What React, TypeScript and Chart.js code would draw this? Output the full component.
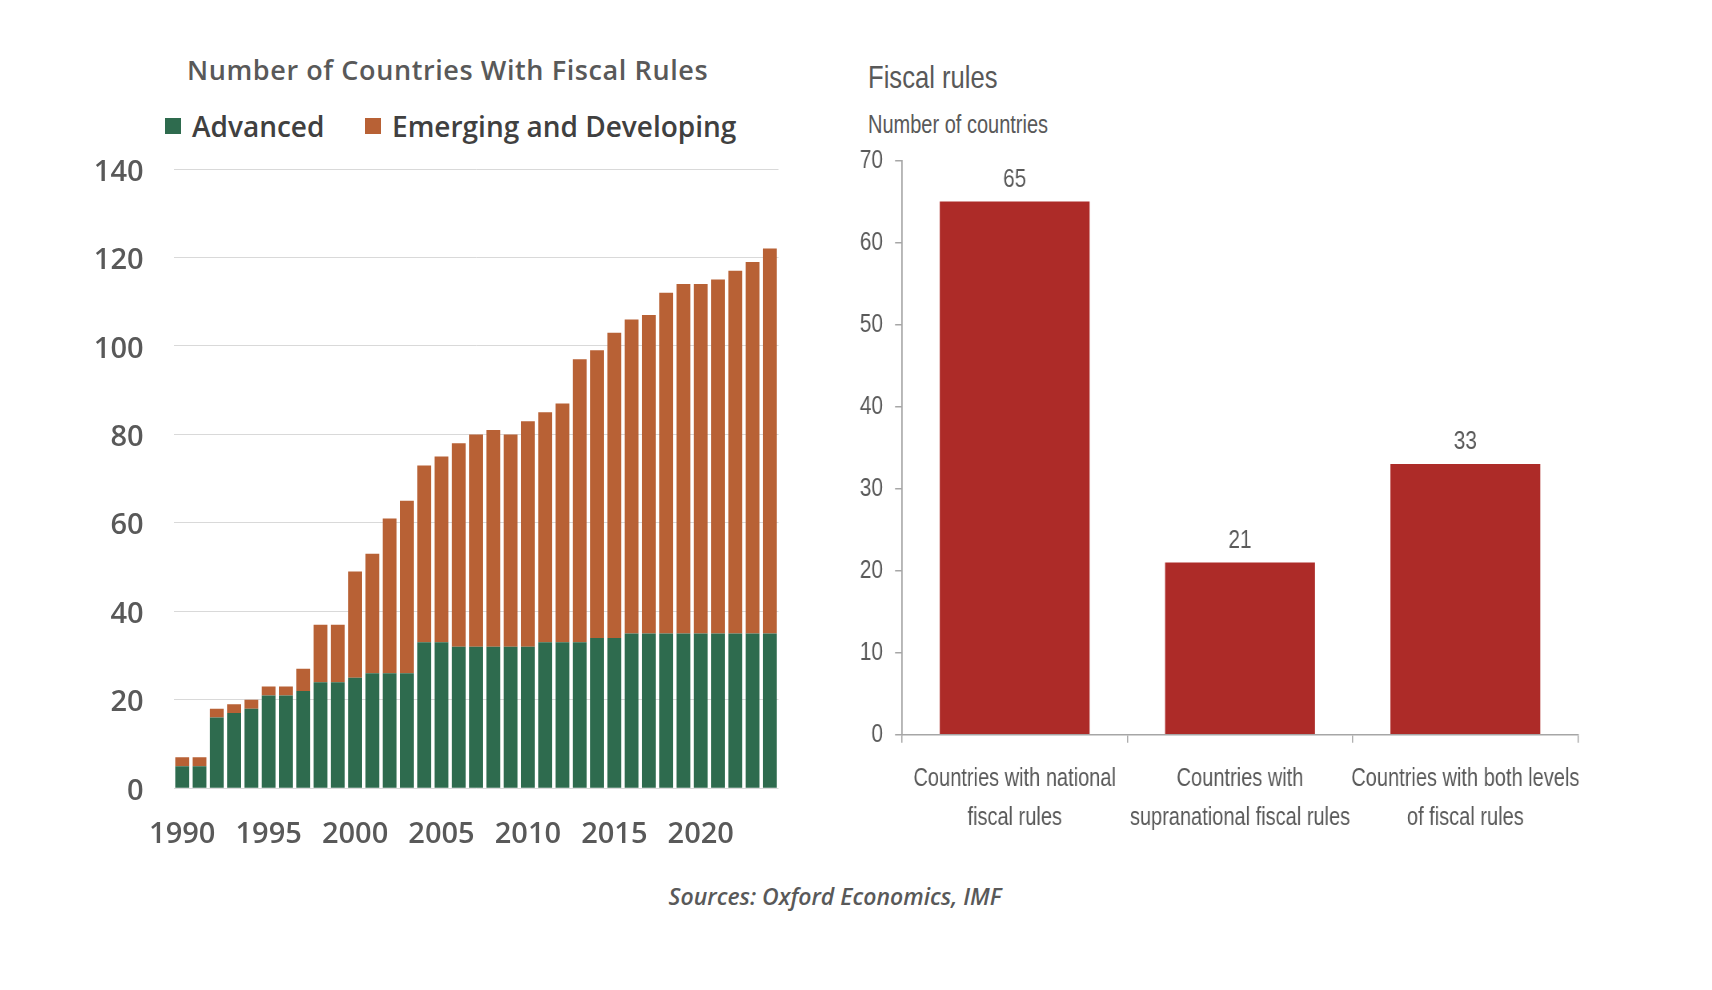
import { useEffect, useRef } from "react";
import { Chart, registerables } from "chart.js";

Chart.register(...registerables);

// ---- Number of countries with fiscal rules, by income group ----
const years = [
  "1990", "1991", "1992", "1993", "1994", "1995", "1996", "1997", "1998", "1999",
  "2000", "2001", "2002", "2003", "2004", "2005", "2006", "2007", "2008", "2009",
  "2010", "2011", "2012", "2013", "2014", "2015", "2016", "2017", "2018", "2019",
  "2020", "2021", "2022", "2023", "2024",
];
const yearTicks = ["1990", "1995", "2000", "2005", "2010", "2015", "2020"];
const advanced = [
  5, 5, 16, 17, 18, 21, 21, 22, 24, 24,
  25, 26, 26, 26, 33, 33, 32, 32, 32, 32,
  32, 33, 33, 33, 34, 34, 35, 35, 35, 35,
  35, 35, 35, 35, 35,
];
const emerging = [
  2, 2, 2, 2, 2, 2, 2, 5, 13, 13,
  24, 27, 35, 39, 40, 42, 46, 48, 49, 48,
  51, 52, 54, 64, 65, 69, 71, 72, 77, 79,
  79, 80, 82, 84, 87,
];

// ---- Fiscal rules by level ----
const ruleCategories = [
  ["Countries with national", "fiscal rules"],
  ["Countries with", "supranational fiscal rules"],
  ["Countries with both levels", "of fiscal rules"],
];
const ruleCounts = [65, 21, 33];

const GREEN = "#2e6b4e";
const ORANGE = "#b86135";
const RED = "#ad2b28";
const GREY_TEXT = "#595959";
const SANS = '"Open Sans", "DejaVu Sans", sans-serif';
const ARIALISH = '"Liberation Sans", Arial, sans-serif';

// The right-hand panel uses a condensed face: its canvas is rendered wider
// and displayed at this horizontal factor, which narrows all of its text.
const SQUEEZE = 0.8;
const LEVEL_CSS_WIDTH = 721.6;
const LEVEL_PX_WIDTH = Math.round(LEVEL_CSS_WIDTH / SQUEEZE);

function GroupChart() {
  const ref = useRef<HTMLCanvasElement | null>(null);
  useEffect(() => {
    if (!ref.current) return;
    const chart = new Chart(ref.current, {
      type: "bar",
      data: {
        labels: years,
        datasets: [
          { label: "Advanced", data: advanced, backgroundColor: GREEN, borderWidth: 0 },
          { label: "Emerging and Developing", data: emerging, backgroundColor: ORANGE, borderWidth: 0 },
        ],
      },
      options: {
        responsive: false,
        animation: false,
        devicePixelRatio: 1,
        layout: { padding: { top: 19, right: 21.5, bottom: 0, left: 0 } },
        plugins: { legend: { display: false }, title: { display: false }, tooltip: { enabled: false } },
        datasets: { bar: { categoryPercentage: 1, barPercentage: 0.8 } },
        scales: {
          x: {
            stacked: true,
            grid: { display: false, drawTicks: false },
            border: { display: false },
            ticks: {
              autoSkip: false,
              maxRotation: 0,
              padding: 29,
              color: GREY_TEXT,
              font: { family: SANS, size: 29, weight: "600" },
              callback: (_v: any, i: number) => (yearTicks.includes(years[i]) ? years[i] : ""),
            },
            afterFit: (s: any) => {
              s.height = 81.7;
              s.paddingLeft = 0;
              s.paddingRight = 0;
            },
          },
          y: {
            stacked: true,
            min: 0,
            max: 140,
            grid: { color: "#d9d9d9", lineWidth: 1, drawTicks: false },
            border: { display: false },
            ticks: {
              stepSize: 20,
              padding: 30,
              labelOffset: 3.3,
              color: GREY_TEXT,
              font: { family: SANS, size: 29, weight: "600" },
            },
            afterFit: (s: any) => {
              s.width = 173.6;
              s.paddingTop = 0;
              s.paddingBottom = 0;
            },
          },
        },
      },
    } as any);
    return () => chart.destroy();
  }, []);
  return (
    <canvas
      ref={ref}
      width={800}
      height={720}
      style={{ position: "absolute", left: 0, top: 150, width: 800, height: 720 }}
    />
  );
}

const valueLabels = {
  id: "valueLabels",
  afterDatasetsDraw(chart: any) {
    const ctx = chart.ctx;
    const meta = chart.getDatasetMeta(0);
    const data = chart.data.datasets[0].data;
    ctx.save();
    ctx.font = `26px ${ARIALISH}`;
    ctx.fillStyle = GREY_TEXT;
    ctx.textAlign = "center";
    ctx.textBaseline = "middle";
    meta.data.forEach((bar: any, i: number) => {
      ctx.fillText(String(data[i]), bar.x, bar.y - 22);
    });
    ctx.restore();
  },
};

function LevelChart() {
  const ref = useRef<HTMLCanvasElement | null>(null);
  useEffect(() => {
    if (!ref.current) return;
    const chart = new Chart(ref.current, {
      type: "bar",
      data: {
        labels: ruleCategories,
        datasets: [{ label: "Number of countries", data: ruleCounts, backgroundColor: RED, borderWidth: 0 }],
      },
      plugins: [valueLabels],
      options: {
        responsive: false,
        animation: false,
        devicePixelRatio: 1,
        layout: { padding: { top: 20.5, right: 2.5, bottom: 0, left: 0 } },
        plugins: { legend: { display: false }, title: { display: false }, tooltip: { enabled: false } },
        datasets: { bar: { categoryPercentage: 1, barPercentage: 0.665 } },
        scales: {
          x: {
            grid: { drawOnChartArea: false, drawTicks: true, tickLength: 8, color: "#a6a6a6", offset: true, lineWidth: 1.5 },
            border: { display: true, color: "#a6a6a6", width: 1.5 },
            ticks: {
              autoSkip: false,
              maxRotation: 0,
              padding: 16.5,
              color: GREY_TEXT,
              font: { family: ARIALISH, size: 25, lineHeight: 1.572 },
            },
            afterFit: (s: any) => {
              s.height = 135.2;
              s.paddingLeft = 0;
              s.paddingRight = 0;
            },
          },
          y: {
            min: 0,
            max: 70,
            grid: { drawOnChartArea: false, drawTicks: true, tickLength: 8.75, color: "#a6a6a6", lineWidth: 1.5 },
            border: { display: true, color: "#a6a6a6", width: 1.8 },
            ticks: {
              stepSize: 10,
              padding: 15,
              color: GREY_TEXT,
              font: { family: ARIALISH, size: 26 },
            },
            afterFit: (s: any) => {
              s.width = 55;
              s.paddingTop = 0;
              s.paddingBottom = 0;
            },
          },
        },
      },
    } as any);
    return () => chart.destroy();
  }, []);
  return (
    <canvas
      ref={ref}
      width={LEVEL_PX_WIDTH}
      height={730}
      style={{ position: "absolute", left: 858, top: 140, width: LEVEL_CSS_WIDTH, height: 730 }}
    />
  );
}

function LegendKey({ color, text, x }: { color: string; text: string; x: number }) {
  return (
    <div
      style={{
        position: "absolute",
        left: x,
        top: 108,
        height: 36,
        display: "flex",
        alignItems: "center",
        whiteSpace: "nowrap",
      }}
    >
      <span style={{ display: "inline-block", width: 16, height: 16, background: color, marginRight: 11 }} />
      <span style={{ font: `600 28px ${SANS}`, color: "#404040", lineHeight: "36px" }}>{text}</span>
    </div>
  );
}

function CondensedText({ text, x, cy, size }: { text: string; x: number; cy: number; size: number }) {
  const lh = Math.round(size * 1.3);
  return (
    <div
      style={{
        position: "absolute",
        left: x,
        top: cy - lh / 2,
        whiteSpace: "nowrap",
        font: `${size}px ${ARIALISH}`,
        lineHeight: `${lh}px`,
        color: GREY_TEXT,
        transform: `scaleX(${SQUEEZE})`,
        transformOrigin: "0 50%",
      }}
    >
      {text}
    </div>
  );
}

export default function App() {
  return (
    <div
      style={{
        position: "absolute",
        left: 0,
        top: 0,
        width: 1712,
        height: 990,
        background: "#ffffff",
        overflow: "hidden",
      }}
    >
      <div
        style={{
          position: "absolute",
          left: 447.6,
          top: 52,
          transform: "translateX(-50%)",
          whiteSpace: "nowrap",
          font: `600 27px ${SANS}`,
          letterSpacing: "0.6px",
          lineHeight: "36px",
          color: GREY_TEXT,
        }}
      >
        Number of Countries With Fiscal Rules
      </div>
      <LegendKey color={GREEN} text="Advanced" x={165} />
      <LegendKey color={ORANGE} text="Emerging and Developing" x={365} />
      <GroupChart />
      <CondensedText text="Fiscal rules" x={868} cy={76.6} size={32} />
      <CondensedText text="Number of countries" x={868} cy={124.5} size={25} />
      <LevelChart />
      <div
        style={{
          position: "absolute",
          left: 835,
          top: 881,
          transform: "translateX(-50%)",
          whiteSpace: "nowrap",
          font: `italic 600 23px ${SANS}`,
          lineHeight: "30px",
          color: GREY_TEXT,
        }}
      >
        Sources: Oxford Economics, IMF
      </div>
    </div>
  );
}
